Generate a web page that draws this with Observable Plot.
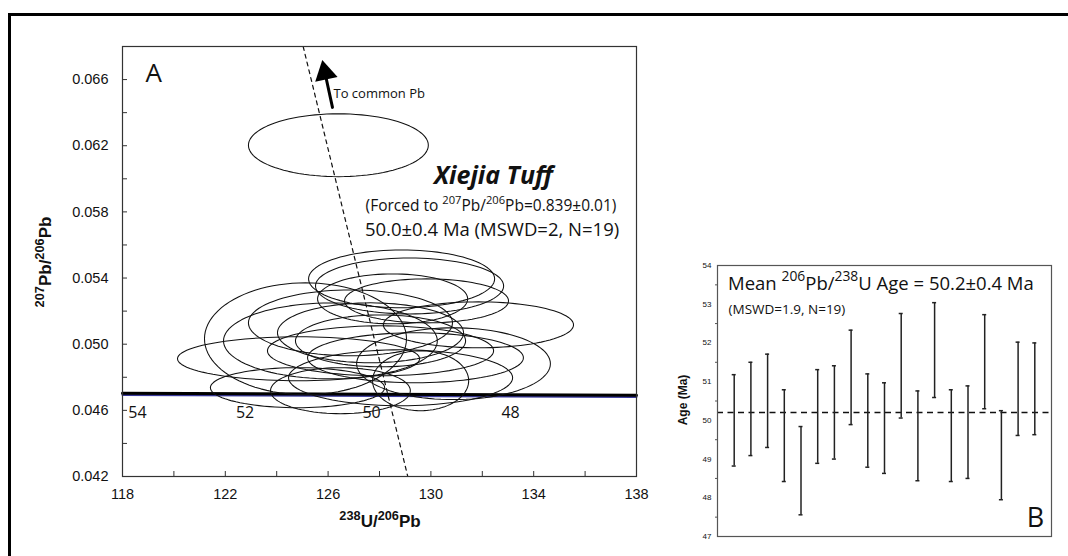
<!DOCTYPE html>
<html><head><meta charset="utf-8">
<script src="https://cdn.jsdelivr.net/npm/d3@7"></script>
<script src="https://cdn.jsdelivr.net/npm/@observablehq/plot@0.6"></script>
<style>
body{margin:0;background:#fff;}
#wrap{position:relative;width:1068px;height:556px;overflow:hidden;background:#fff;}
#border{position:absolute;left:8px;top:13px;width:1100px;height:600px;border-left:3px solid #000;border-top:3px solid #000;}
#a,#b{position:absolute;top:0;}
#a{left:0px;}
#b{left:640px;}
svg{overflow:visible;}
</style></head><body>
<div id="wrap"><div id="border"></div><div id="a"></div><div id="b"></div></div>
<script>
// ---------- Panel A data (Tera-Wasserburg) ----------
const ellipseCX = [126.40, 128.86, 129.17, 131.85, 129.83, 125.12, 124.85, 124.81, 126.09, 126.87, 128.04, 127.65, 128.82, 128.04, 129.40, 128.51, 130.88, 129.60, 126.48];
const ellipseCY = [0.06203, 0.05395, 0.05352, 0.05117, 0.05262, 0.05033, 0.04912, 0.04737, 0.05020, 0.05129, 0.04960, 0.05069, 0.04797, 0.05020, 0.04918, 0.05274, 0.04882, 0.04779, 0.04719];
const ellipseRX = [3.50, 3.62, 3.66, 3.70, 3.19, 3.93, 4.71, 3.39, 4.16, 3.97, 4.40, 3.62, 4.36, 3.31, 4.20, 2.92, 3.77, 1.87, 2.72];
const ellipseRY = [0.00190, 0.00175, 0.00169, 0.00139, 0.00133, 0.00338, 0.00133, 0.00121, 0.00229, 0.00199, 0.00151, 0.00181, 0.00169, 0.00157, 0.00151, 0.00151, 0.00217, 0.00181, 0.00139];

const concordiaX = [118, 138];
const concordiaY = [0.04704, 0.04692];
const concordiaBlueY = [0.04694, 0.04682];

const ageLabels = ["54", "52", "50", "48"];
const ageLabelX = [118.58, 122.77, 127.69, 133.10];
const ageLabelY = 0.04583;

const discordiaX = [125.03, 129.10];
const discordiaY = [0.068, 0.042];

const arrowTailX = 126.17, arrowTailY = 0.06432;
const arrowHeadX = 125.88, arrowHeadY = 0.06640;

const xTicksA = [118, 120, 122, 124, 126, 128, 130, 132, 134, 136, 138];
const xLabelsA = [118, 122, 126, 130, 134, 138];
const yTicksA = [0.042, 0.044, 0.046, 0.048, 0.050, 0.052, 0.054, 0.056, 0.058, 0.060, 0.062, 0.064, 0.066, 0.068];
const yLabelsA = [0.042, 0.046, 0.050, 0.054, 0.058, 0.062, 0.066];

// ---------- Panel B data (weighted mean ages) ----------
const grainIndex = [1, 2, 3, 4, 5, 6, 7, 8, 9, 10, 11, 12, 13, 14, 15, 16, 17, 18, 19];
const ageHigh = [51.18, 51.50, 51.71, 50.79, 49.84, 51.31, 51.41, 52.33, 51.20, 50.97, 52.76, 50.76, 53.04, 50.79, 50.89, 52.73, 50.25, 52.02, 52.00];
const ageLow  = [48.82, 49.09, 49.30, 48.42, 47.56, 48.89, 49.00, 49.89, 48.79, 48.63, 50.06, 48.44, 50.59, 48.42, 48.50, 50.30, 47.95, 49.61, 49.63];
const meanAge = 50.2;
const yTicksB = [47, 48, 49, 50, 51, 52, 53, 54];
const yMinorB = [47.5, 48.5, 49.5, 50.5, 51.5, 52.5, 53.5];

// ---------- build tables ----------
const ellipsePts = [];
ellipseCX.forEach((cx, i) => {
  for (let k = 0; k <= 96; k++) {
    const t = (k / 96) * 2 * Math.PI;
    ellipsePts.push({id: i, x: cx + ellipseRX[i] * Math.cos(t), y: ellipseCY[i] + ellipseRY[i] * Math.sin(t)});
  }
});
const concordia = concordiaX.map((x, i) => ({x, y: concordiaY[i], yb: concordiaBlueY[i]}));
const ages = ageLabels.map((t, i) => ({t, x: ageLabelX[i], y: ageLabelY}));
const discordia = discordiaX.map((x, i) => ({x, y: discordiaY[i]}));
const grains = grainIndex.map((g, i) => ({g, lo: ageLow[i], hi: ageHigh[i]}));

const SANS = "'Open Sans', 'Noto Sans', sans-serif";
const ARIAL = "'Liberation Sans', Arial, sans-serif";

function rich(svg, x, y, parts, opts) {
  const t = d3.select(svg).append("text")
    .attr("transform", `translate(${x},${y})` + (opts.rotate ? ` rotate(${opts.rotate})` : ""))
    .attr("font-size", opts.size).attr("font-family", opts.family)
    .attr("font-weight", opts.weight || "normal")
    .attr("text-anchor", opts.anchor || "start").attr("fill", "#111");
  parts.forEach(p => {
    const s = t.append("tspan").text(p[0]);
    if (p[1]) s.attr("baseline-shift", "super").attr("font-size", opts.size * (opts.sup || 0.72));
  });
}

// ---------- Panel A ----------
const plotA = Plot.plot({
  width: 700, height: 556,
  marginLeft: 122, marginRight: 64, marginTop: 46, marginBottom: 80,
  style: {background: "transparent", fontFamily: ARIAL, color: "#111"},
  x: {domain: [118, 138], label: null},
  y: {domain: [0.042, 0.068], label: null},
  marks: [
    Plot.line(concordia, {x: "x", y: "yb", stroke: "#3a3a9c", strokeWidth: 2.2}),
    Plot.line(concordia, {x: "x", y: "y", stroke: "#000", strokeWidth: 3}),
    Plot.line(ellipsePts, {x: "x", y: "y", z: "id", curve: "linear-closed", stroke: "#111", strokeWidth: 1.05}),
    Plot.line(discordia, {x: "x", y: "y", stroke: "#111", strokeWidth: 1.2, strokeDasharray: "4,4"}),
    Plot.line([{x: arrowTailX, y: arrowTailY}, {x: arrowHeadX, y: arrowHeadY}], {x: "x", y: "y", stroke: "#000", strokeWidth: 3}),
    Plot.dot([{x: arrowHeadX, y: arrowHeadY}], {x: "x", y: "y", symbol: "triangle", r: 8.5, fill: "#000", stroke: "none", rotate: -12}),
    Plot.text(ages, {x: "x", y: "y", text: "t", fontSize: 16, fontFamily: SANS, fill: "#111"}),
    Plot.text(["A"], {x: 119.21, y: 0.06634, fontSize: 26, fontFamily: SANS, fill: "#111"}),
    Plot.text(["To common Pb"], {x: 126.21, y: 0.06511, fontSize: 13, fontFamily: SANS, textAnchor: "start", fill: "#111"}),
    Plot.text(["Xiejia Tuff"], {x: 132.43, y: 0.06016, fontSize: 25, fontFamily: SANS, fontWeight: "bold", fontStyle: "italic", fill: "#111"}),
    Plot.text(["50.0±0.4 Ma (MSWD=2, N=19)"], {x: 132.38, y: 0.05690, fontSize: 18.5, fontFamily: SANS, fill: "#111"}),
    Plot.frame({stroke: "#333", strokeWidth: 1.2}),
    Plot.axisX({ticks: xTicksA, tickSize: -5, tickFormat: () => "", stroke: "#333"}),
    Plot.axisX({ticks: xLabelsA, tickSize: 0, tickPadding: 12, fontSize: 14.5, tickFormat: d => String(d)}),
    Plot.axisY({ticks: yTicksA, tickSize: -5, tickFormat: () => "", stroke: "#333"}),
    Plot.axisY({ticks: yLabelsA, tickSize: 0, tickPadding: 14, fontSize: 14.5, tickFormat: d3.format(".3f")})
  ]
});
document.getElementById("a").appendChild(plotA);
rich(plotA, 380, 527, [["238", 1], ["U/", 0], ["206", 1], ["Pb", 0]], {size: 17, family: ARIAL, weight: "bold", anchor: "middle", sup: 0.75});
rich(plotA, 51, 262, [["207", 1], ["Pb/", 0], ["206", 1], ["Pb", 0]], {size: 17, family: ARIAL, weight: "bold", anchor: "middle", rotate: -90, sup: 0.75});
rich(plotA, 491, 211, [["(Forced to ", 0], ["207", 1], ["Pb/", 0], ["206", 1], ["Pb=0.839±0.01)", 0]], {size: 15.5, family: SANS, anchor: "middle"});

// ---------- Panel B ----------
const plotB = Plot.plot({
  width: 428, height: 556,
  marginLeft: 77, marginRight: 17, marginTop: 265, marginBottom: 20,
  style: {background: "transparent", fontFamily: ARIAL, color: "#111"},
  x: {domain: [0, 20], axis: null, label: null},
  y: {domain: [47, 54], label: null},
  marks: [
    Plot.ruleY([meanAge], {stroke: "#111", strokeWidth: 1.5, strokeDasharray: "6,4.5"}),
    Plot.ruleX(grains, {x: "g", y1: "lo", y2: "hi", stroke: "#222", strokeWidth: 1.5}),
    Plot.ruleY(grains, {y: "lo", x1: d => d.g - 0.12, x2: d => d.g + 0.12, stroke: "#222", strokeWidth: 1.5}),
    Plot.ruleY(grains, {y: "hi", x1: d => d.g - 0.12, x2: d => d.g + 0.12, stroke: "#222", strokeWidth: 1.5}),
    Plot.text(["(MSWD=1.9, N=19)"], {x: 0.66, y: 52.86, fontSize: 13.5, fontFamily: SANS, textAnchor: "start", fill: "#111"}),
    Plot.text(["B"], {x: 19.04, y: 47.46, fontSize: 27, fontFamily: SANS, fill: "#111"}),
    Plot.frame({stroke: "#555", strokeWidth: 1.2}),
    Plot.axisY({ticks: yMinorB, tickSize: 2, tickFormat: () => "", stroke: "#555"}),
    Plot.axisY({ticks: yTicksB, tickSize: 0, tickPadding: 6, fontSize: 8, fontFamily: "'Liberation Sans Narrow', 'Liberation Sans', sans-serif", tickFormat: d => String(d)})
  ]
});
document.getElementById("b").appendChild(plotB);
rich(plotB, 88, 290, [["Mean ", 0], ["206", 1], ["Pb/", 0], ["238", 1], ["U Age = 50.2±0.4 Ma", 0]], {size: 18.5, family: SANS, anchor: "start", sup: 0.75});
rich(plotB, 47, 400, [["Age (Ma)", 0]], {size: 12, family: ARIAL, weight: "bold", anchor: "middle", rotate: -90});
</script>
</body></html>
